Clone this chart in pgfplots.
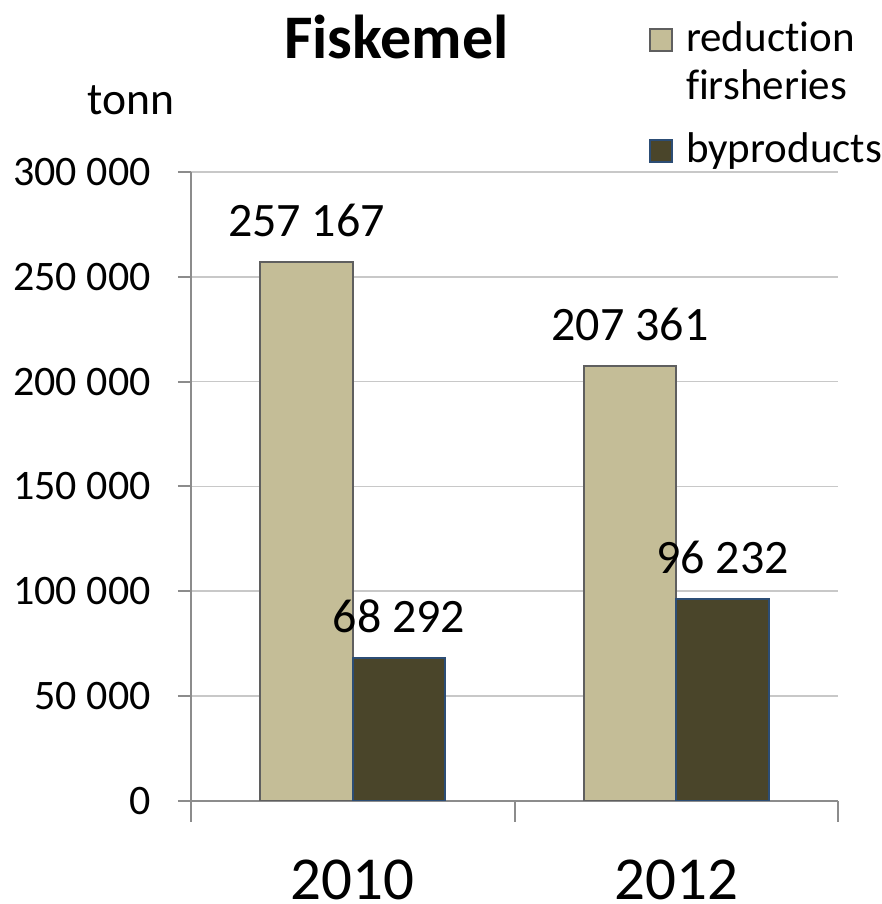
\documentclass[border=0pt]{standalone}
\usepackage{fontspec}
\setmainfont{Carlito}[Ligatures=NoCommon]
\usepackage{pgfplots}
\pgfplotsset{compat=1.18}
\definecolor{tanbar}{HTML}{C4BD97}
\definecolor{darkbar}{HTML}{4A452A}
\definecolor{tanedge}{HTML}{5F5F5F}
\definecolor{darkedge}{HTML}{2C4D75}
\definecolor{gridgray}{HTML}{C8C8C8}
\definecolor{axisgray}{HTML}{8C8C8C}

\begin{document}
\begin{tikzpicture}
\useasboundingbox (0,0) rectangle (441pt,452pt);
\begin{axis}[
  at={(95.5pt,51.6pt)}, anchor=south west,
  scale only axis, width=323.5pt, height=314.4pt,
  ybar=0pt, bar width=0.285714,
  xmin=-0.5, xmax=1.5, ymin=0, ymax=300000,
  axis lines*=left,
  axis line style={axisgray, line width=1pt},
  tick align=outside, major tick length=6.5pt,
  scaled y ticks=false,
  ytick={0,50000,100000,150000,200000,250000,300000},
  yticklabels={0,50 000,100 000,150 000,200 000,250 000,300 000},
  yticklabel style={font=\fontsize{21}{24}\selectfont, inner sep=0pt, anchor=east, xshift=-13.5pt},
  y tick style={axisgray, line width=1pt},
  ymajorgrids, grid style={gridgray, line width=0.8pt},
  xtick={0,1}, xticklabels={2010,2012},
  x tick style={draw=none},
  xticklabel style={font=\fontsize{30.5}{36}\selectfont, inner sep=0pt, anchor=north, yshift=-23pt},
  extra x ticks={-0.5,0.5,1.5}, extra x tick labels={},
  extra x tick style={x tick style={draw=axisgray, line width=1pt}, major tick length=10.5pt, grid=none},
  nodes near coords, point meta=explicit symbolic,
  every node near coord/.append style={font=\fontsize{24}{28}\selectfont, inner sep=0pt, anchor=south, yshift=12pt, black},
  title={Fiskemel},
  title style={at={(axis description cs:0.3176,1.162)}, anchor=base, inner sep=0pt, font=\bfseries\fontsize{31}{36}\selectfont},
  ylabel={tonn},
  ylabel style={rotate=-90, at={(axis description cs:-0.1607,1.0922)}, anchor=base west, inner sep=0pt, font=\fontsize{22.8}{26}\selectfont},
  legend image code/.code={\draw[#1,/tikz/.cd,line width=1pt] (0.5pt,0.5pt) rectangle (11.5pt,11.5pt);},
  legend style={at={(axis description cs:0.7079,1.2443)}, anchor=north west, draw=none, fill=none,
    inner sep=0pt, outer sep=0pt, font=\fontsize{21.5}{24}\selectfont,
    cells={anchor=base west}, nodes={inner sep=0pt}, column sep=6.5pt, row sep=39pt},
]
\addplot[fill=tanbar, draw=tanedge, line width=1pt] coordinates {(0,257167) [257 167] (1,207361) [207 361]};
\addlegendentry{\begin{tabular}[t]{@{}l@{}}reduction\\firsheries\end{tabular}}
\addplot[fill=darkbar, draw=darkedge, line width=1pt] coordinates {(0,68292) [68 292] (1,96232) [96 232]};
\addlegendentry{byproducts}
\end{axis}
\end{tikzpicture}
\end{document}
